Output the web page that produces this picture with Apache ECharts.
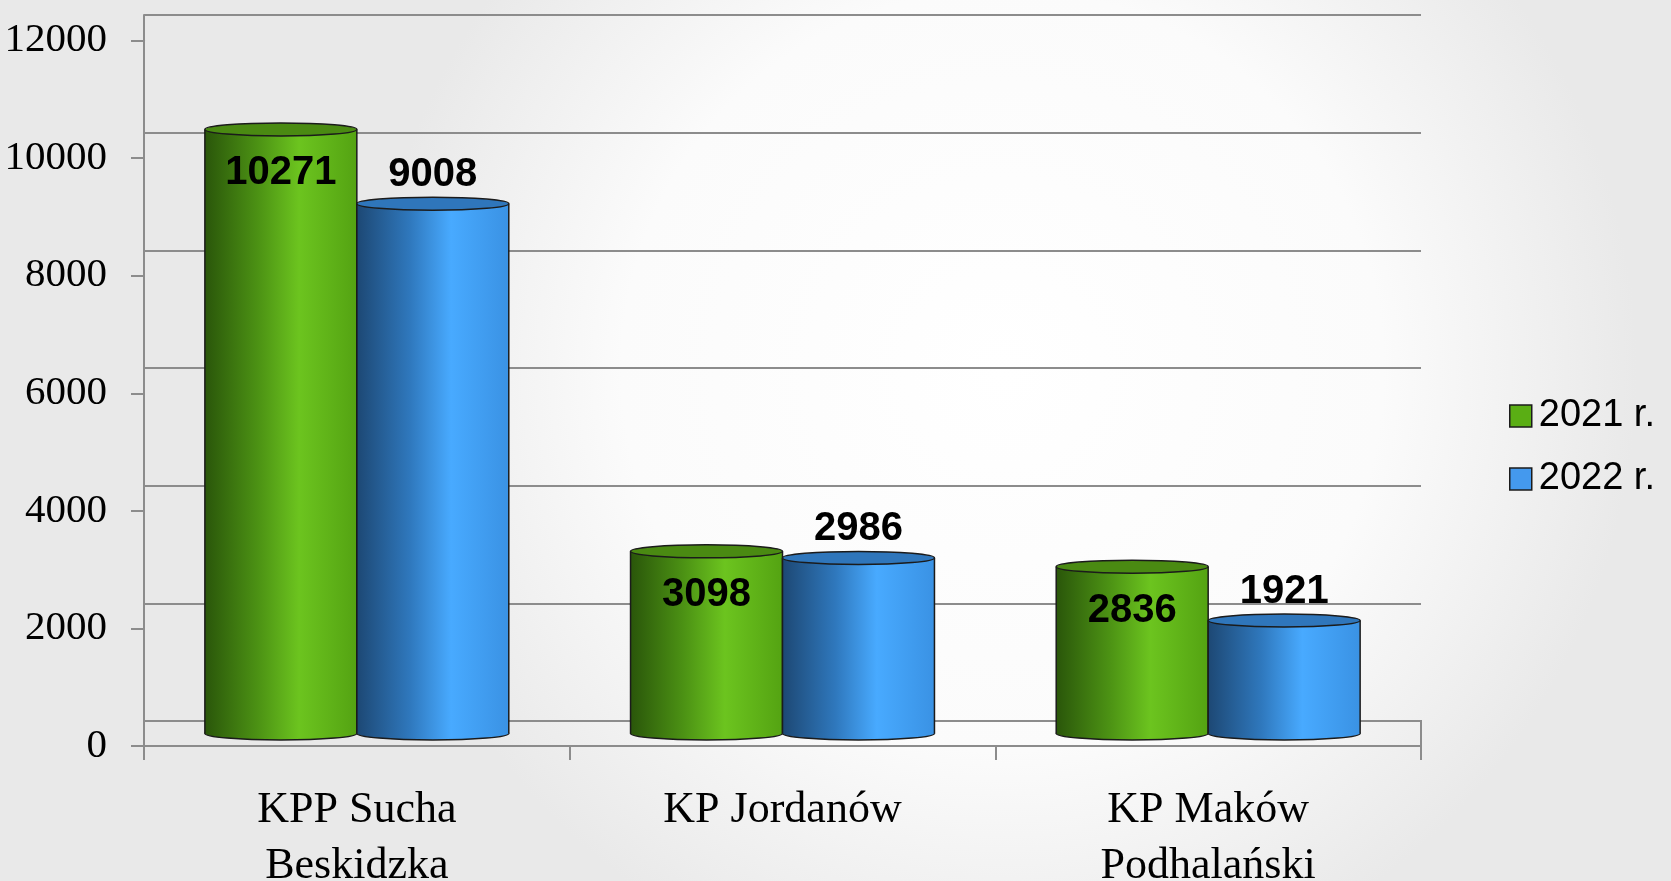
<!DOCTYPE html>
<html>
<head>
<meta charset="utf-8">
<script src="https://cdn.jsdelivr.net/npm/echarts@6/dist/echarts.min.js"></script>
<style>
  html, body { margin: 0; padding: 0; }
  #main { width: 1671px; height: 881px; }
</style>
</head>
<body>
<div id="main"></div>
<script>
// data
var categories = ['KPP Sucha\nBeskidzka', 'KP Jordanów', 'KP Maków\nPodhalański'];
var seriesNames = ['2021 r.', '2022 r.'];
var values2021 = [10271, 3098, 2836];
var values2022 = [9008, 2986, 1921];
var yTicks = { min: 0, max: 12000, interval: 2000 };

var chartDom = document.getElementById('main');
var myChart = echarts.init(chartDom);

// side / top colours for the cylinders
var looks = [
  {
    legend: '#5aae14',
    top: '#4a8a12',
    side: [
      { offset: 0, color: '#2a560a' },
      { offset: 0.35, color: '#4c9214' },
      { offset: 0.62, color: '#6cc41f' },
      { offset: 1, color: '#54a312' }
    ],
    labelDy: 44
  },
  {
    legend: '#4499ee',
    top: '#2f76bb',
    side: [
      { offset: 0, color: '#1d4874' },
      { offset: 0.35, color: '#2f78bd' },
      { offset: 0.62, color: '#48aaff' },
      { offset: 1, color: '#3a92e4' }
    ],
    labelDy: -29
  }
];

var ry = 6.5;

function renderCylinder(params, api) {
  var look = looks[params.seriesIndex];
  var val = api.value(1);
  var top = api.coord([api.value(0), val]);
  var base = api.coord([api.value(0), 0]);
  var w = api.size([1, 0])[0] * 0.357;
  var x0 = params.seriesIndex === 0 ? top[0] - w : top[0];
  var cx = x0 + w / 2;
  var sideFill = { type: 'linear', x: 0, y: 0, x2: 1, y2: 0, colorStops: look.side };
  var stroke = '#1b1b1b';
  return {
    type: 'group',
    children: [
      {
        type: 'ellipse',
        shape: { cx: cx, cy: base[1], rx: w / 2, ry: ry },
        style: { fill: sideFill, stroke: stroke, lineWidth: 1.5 }
      },
      {
        type: 'rect',
        shape: { x: x0, y: top[1], width: w, height: base[1] - top[1] },
        style: { fill: sideFill }
      },
      {
        type: 'line',
        shape: { x1: x0, y1: top[1], x2: x0, y2: base[1] },
        style: { stroke: stroke, lineWidth: 1.5 }
      },
      {
        type: 'line',
        shape: { x1: x0 + w, y1: top[1], x2: x0 + w, y2: base[1] },
        style: { stroke: stroke, lineWidth: 1.5 }
      },
      {
        type: 'ellipse',
        shape: { cx: cx, cy: top[1], rx: w / 2, ry: ry },
        style: { fill: look.top, stroke: stroke, lineWidth: 1.5 }
      },
      {
        type: 'text',
        style: {
          text: String(val),
          x: cx,
          y: top[1] + look.labelDy,
          align: 'center',
          verticalAlign: 'middle',
          fill: '#000',
          font: 'bold 40px "Liberation Sans", Arial, sans-serif'
        }
      }
    ]
  };
}

var gridColor = '#8c8c8c';
var serif = '"Liberation Serif", "Times New Roman", serif';

var option = {
  animation: false,
  backgroundColor: {
    type: 'radial', x: 0.6, y: 0.42, r: 0.72,
    colorStops: [
      { offset: 0, color: '#ffffff' },
      { offset: 0.6, color: '#fbfbfb' },
      { offset: 1, color: '#e9e9e9' }
    ]
  },
  legend: {
    orient: 'vertical',
    left: 1504,
    top: 392,
    itemWidth: 22,
    itemHeight: 22,
    itemGap: 25,
    icon: 'rect',
    textStyle: { fontSize: 38, color: '#000', fontFamily: '"Liberation Sans", Arial, sans-serif', padding: [0, 0, 0, 2] },
    data: [
      { name: seriesNames[0], itemStyle: { color: looks[0].legend, borderColor: '#1b1b1b', borderWidth: 1.5 } },
      { name: seriesNames[1], itemStyle: { color: looks[1].legend, borderColor: '#1b1b1b', borderWidth: 1.5 } }
    ]
  },
  grid: [
    // back wall
    { left: 144, right: 250, top: 15, bottom: 160, outerBoundsMode: 'none' },
    // front plane (labels and ticks)
    { left: 144, right: 250, top: 40.5, bottom: 135, outerBoundsMode: 'none' },
    // mid depth (cylinders)
    { left: 144, right: 250, top: 27.75, bottom: 147.5, outerBoundsMode: 'none' },
    // floor
    { left: 144, right: 250, top: 721, bottom: 135, outerBoundsMode: 'none', show: true, borderColor: gridColor, borderWidth: 2, backgroundColor: 'transparent' }
  ],
  xAxis: [
    { gridIndex: 0, type: 'category', data: categories, show: false },
    {
      gridIndex: 1, type: 'category', data: categories,
      axisLine: { lineStyle: { color: gridColor, width: 2 } },
      axisTick: { show: true, length: 14, lineStyle: { color: gridColor, width: 2 } },
      axisLabel: { color: '#000', fontSize: 44, fontFamily: serif, margin: 36, lineHeight: 56 }
    },
    { gridIndex: 2, type: 'category', data: categories, show: false },
    { gridIndex: 3, type: 'category', data: categories, show: false }
  ],
  yAxis: [
    {
      gridIndex: 0, type: 'value', min: yTicks.min, max: yTicks.max, interval: yTicks.interval,
      axisLine: { show: true, lineStyle: { color: gridColor, width: 2 } },
      axisTick: { show: false },
      axisLabel: { show: false },
      splitLine: { show: true, lineStyle: { color: gridColor, width: 2 } }
    },
    {
      gridIndex: 1, type: 'value', min: yTicks.min, max: yTicks.max, interval: yTicks.interval,
      axisLine: { show: true, lineStyle: { color: gridColor, width: 2 } },
      axisTick: { show: true, length: 13, lineStyle: { color: gridColor, width: 2 } },
      axisLabel: { color: '#000', fontSize: 41, fontFamily: serif, margin: 37, formatter: function (v) { return String(v); } },
      splitLine: { show: false }
    },
    { gridIndex: 2, type: 'value', min: yTicks.min, max: yTicks.max, show: false },
    { gridIndex: 3, type: 'value', min: 0, max: 1, show: false }
  ],
  series: [
    {
      name: seriesNames[0],
      type: 'custom',
      xAxisIndex: 2,
      yAxisIndex: 2,
      itemStyle: { color: looks[0].legend },
      renderItem: renderCylinder,
      data: values2021.map(function (v, i) { return [i, v]; })
    },
    {
      name: seriesNames[1],
      type: 'custom',
      xAxisIndex: 2,
      yAxisIndex: 2,
      itemStyle: { color: looks[1].legend },
      renderItem: renderCylinder,
      data: values2022.map(function (v, i) { return [i, v]; })
    }
  ]
};

option && myChart.setOption(option);
</script>
</body>
</html>
